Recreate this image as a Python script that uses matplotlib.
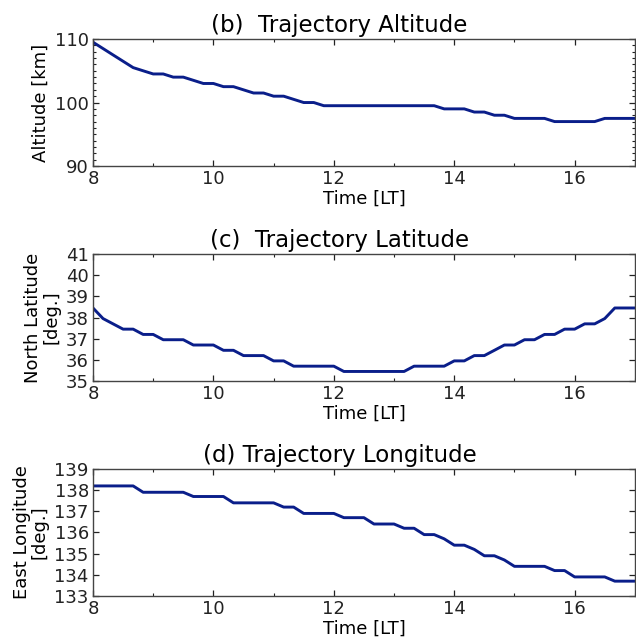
import numpy as np
import matplotlib
matplotlib.use("Agg")
from matplotlib import pyplot as plt
from matplotlib.ticker import MultipleLocator

# time axis, local time [hours], 10 min steps
time_lt = [8.0, 8.167, 8.333, 8.5, 8.667, 8.833, 9.0, 9.167, 9.333, 9.5, 9.667, 9.833,
           10.0, 10.167, 10.333, 10.5, 10.667, 10.833, 11.0, 11.167, 11.333, 11.5, 11.667, 11.833,
           12.0, 12.167, 12.333, 12.5, 12.667, 12.833, 13.0, 13.167, 13.333, 13.5, 13.667, 13.833,
           14.0, 14.167, 14.333, 14.5, 14.667, 14.833, 15.0, 15.167, 15.333, 15.5, 15.667, 15.833,
           16.0, 16.167, 16.333, 16.5, 16.667, 16.833, 17.0]

altitude = [109.5, 108.5, 107.5, 106.5, 105.5, 105.0, 104.5, 104.5, 104.0, 104.0, 103.5, 103.0,
            103.0, 102.5, 102.5, 102.0, 101.5, 101.5, 101.0, 101.0, 100.5, 100.0, 100.0, 99.5,
            99.5, 99.5, 99.5, 99.5, 99.5, 99.5, 99.5, 99.5, 99.5, 99.5, 99.5, 99.0,
            99.0, 99.0, 98.5, 98.5, 98.0, 98.0, 97.5, 97.5, 97.5, 97.5, 97.0, 97.0,
            97.0, 97.0, 97.0, 97.5, 97.5, 97.5, 97.5]

latitude = [38.45, 37.95, 37.7, 37.45, 37.45, 37.2, 37.2, 36.95, 36.95, 36.95, 36.7, 36.7,
            36.7, 36.45, 36.45, 36.2, 36.2, 36.2, 35.95, 35.95, 35.7, 35.7, 35.7, 35.7,
            35.7, 35.45, 35.45, 35.45, 35.45, 35.45, 35.45, 35.45, 35.7, 35.7, 35.7, 35.7,
            35.95, 35.95, 36.2, 36.2, 36.45, 36.7, 36.7, 36.95, 36.95, 37.2, 37.2, 37.45,
            37.45, 37.7, 37.7, 37.95, 38.45, 38.45, 38.45]

longitude = [138.2, 138.2, 138.2, 138.2, 138.2, 137.9, 137.9, 137.9, 137.9, 137.9, 137.7, 137.7,
             137.7, 137.7, 137.4, 137.4, 137.4, 137.4, 137.4, 137.2, 137.2, 136.9, 136.9, 136.9,
             136.9, 136.7, 136.7, 136.7, 136.4, 136.4, 136.4, 136.2, 136.2, 135.9, 135.9, 135.7,
             135.4, 135.4, 135.2, 134.9, 134.9, 134.7, 134.4, 134.4, 134.4, 134.4, 134.2, 134.2,
             133.9, 133.9, 133.9, 133.9, 133.7, 133.7, 133.7]

titles = ['(b)  Trajectory Altitude', '(c)  Trajectory Latitude', '(d) Trajectory Longitude']
ylabels = ['Altitude [km]', 'North Latitude\n[deg.]', 'East Longitude\n[deg.]']
ylims = [(90, 110), (35, 41), (133, 139)]
yticks = [[90, 100, 110], list(range(35, 42)), list(range(133, 140))]

line_col = '#0a1e8a'
fig = plt.figure(figsize=(6.36, 6.40), dpi=100)
bottoms = [0.7406, 0.4047, 0.0688]

for i, series in enumerate([altitude, latitude, longitude]):
    ax = fig.add_axes([0.1462, bottoms[i], 0.852, 0.1984])
    ax.plot(time_lt, series, color=line_col, lw=2.1)
    ax.set_xlim(8, 17)
    ax.set_ylim(*ylims[i])
    ax.set_xticks([8, 10, 12, 14, 16])
    ax.xaxis.set_minor_locator(MultipleLocator(1))
    ax.set_yticks(yticks[i])
    if i == 0:
        ax.yaxis.set_minor_locator(MultipleLocator(1))
    ax.tick_params(which='both', direction='in', top=True, right=True,
                   labelsize=13, colors='#222222', pad=3)
    ax.tick_params(which='major', length=4, width=0.9)
    ax.tick_params(which='minor', length=2, width=0.8)
    for s in ax.spines.values():
        s.set_color('#444444')
        s.set_linewidth(1.0)
    ax.set_xlabel('Time [LT]', fontsize=13, labelpad=1)
    ax.set_ylabel(ylabels[i], fontsize=13, labelpad=4, linespacing=1.0)
    ax.set_title(titles[i], fontsize=16.5, x=0.455, pad=5)

plt.savefig('out.png', dpi=100)
